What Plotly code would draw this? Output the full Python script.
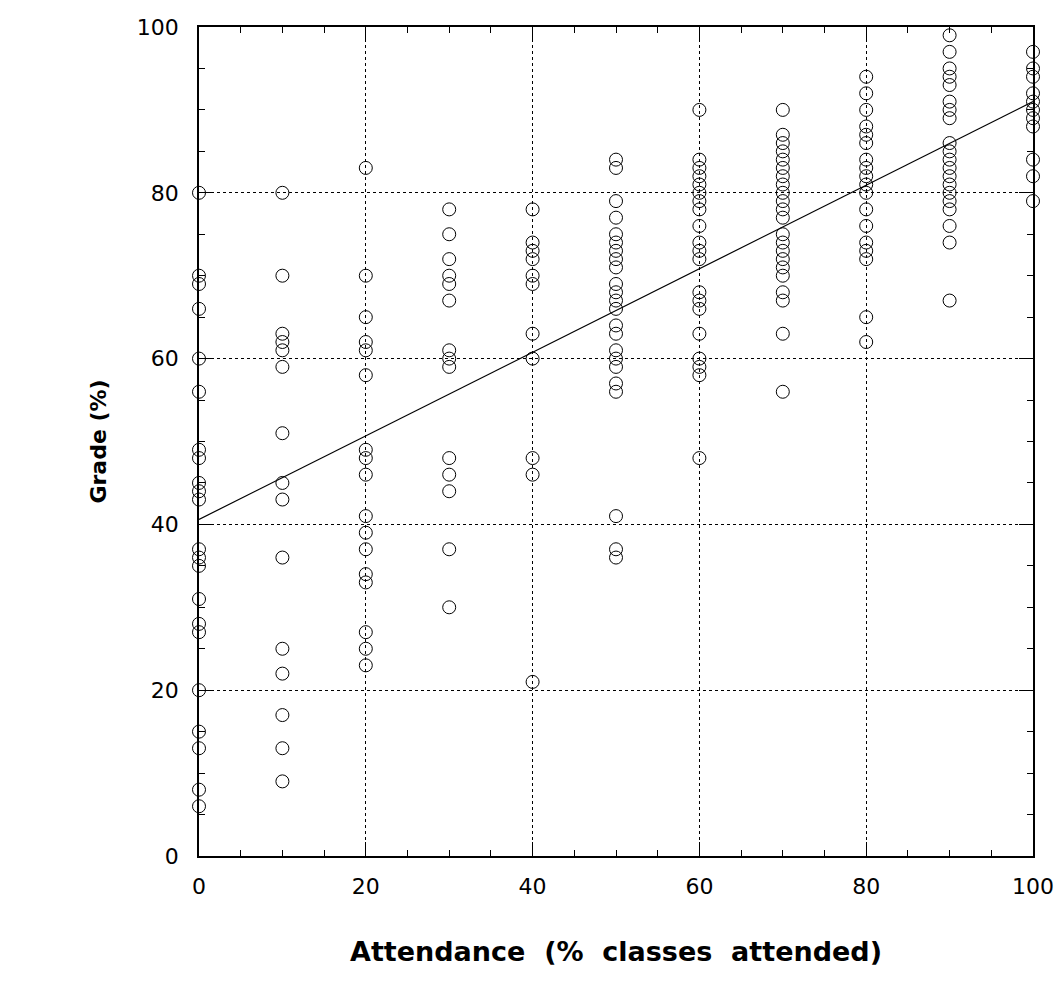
import plotly.graph_objects as go

attendance_levels = [0, 10, 20, 30, 40, 50, 60, 70, 80, 90, 100]
grades_by_level = {
    0: [80, 70, 69, 66, 60, 56, 49, 48, 45, 44, 43, 37, 36, 35, 31, 28, 27, 20, 15, 13, 8, 6],
    10: [80, 70, 63, 62, 61, 59, 51, 45, 43, 36, 25, 22, 17, 13, 9],
    20: [83, 70, 65, 62, 61, 58, 49, 48, 46, 41, 39, 37, 34, 33, 27, 25, 23],
    30: [78, 75, 72, 70, 69, 67, 61, 60, 59, 48, 46, 44, 37, 30],
    40: [78, 74, 73, 72, 70, 69, 63, 60, 48, 46, 21],
    50: [84, 83, 79, 77, 75, 74, 73, 72, 71, 69, 68, 67, 66, 64, 63, 61, 60, 59, 57, 56, 41, 37, 36],
    60: [90, 84, 83, 82, 81, 80, 79, 78, 76, 74, 73, 72, 68, 67, 66, 63, 60, 59, 58, 48],
    70: [90, 87, 86, 85, 84, 83, 82, 81, 80, 79, 78, 77, 75, 74, 73, 72, 71, 70, 68, 67, 63, 56],
    80: [94, 92, 90, 88, 87, 86, 84, 83, 82, 81, 80, 78, 76, 74, 73, 72, 65, 62],
    90: [99, 97, 95, 94, 93, 91, 90, 89, 86, 85, 84, 83, 82, 81, 80, 79, 78, 76, 74, 67],
    100: [97, 95, 94, 92, 91, 90, 89, 88, 84, 82, 79],
}
fit_x = [0, 100]
fit_y = [40.6, 91.0]
tick_vals = [0, 20, 40, 60, 80, 100]
x_title = "Attendance\u00a0\u00a0(%\u00a0\u00a0classes\u00a0\u00a0attended)"
y_title = "Grade (%)"

xs, ys = [], []
for a in attendance_levels:
    for g in grades_by_level[a]:
        xs.append(a)
        ys.append(g)

fig = go.Figure()
fig.add_trace(go.Scatter(
    x=xs, y=ys, mode="markers",
    marker=dict(symbol="circle-open", size=13, color="black", line=dict(width=1)),
    cliponaxis=False, showlegend=False,
))
fig.add_trace(go.Scatter(
    x=fit_x, y=fit_y, mode="lines",
    line=dict(color="black", width=1.2), showlegend=False,
))

tick_font = dict(family="DejaVu Sans, Liberation Sans, sans-serif", size=22, color="black")
axis_common = dict(
    showline=True, linecolor="black", linewidth=1.5, mirror="allticks",
    ticks="inside", ticklen=14, tickwidth=1, tickcolor="black",
    showgrid=True, gridcolor="black", gridwidth=1, griddash="dot",
    zeroline=False, automargin=False,
    tickvals=tick_vals,
    minor=dict(ticks="inside", ticklen=6, tickwidth=1, tickcolor="black", dtick=5, showgrid=False),
    tickfont=tick_font,
    ticklabeloverflow="allow",
)

fig.update_xaxes(
    range=[0, 100], **axis_common,
    ticklabelstandoff=10,
    title=dict(text="<b>" + x_title + "</b>", standoff=44,
               font=dict(family="DejaVu Sans, Liberation Sans, sans-serif", size=27, color="black")),
)
fig.update_yaxes(
    range=[0, 100], **axis_common,
    ticklabelstandoff=14,
    title=dict(text="<b>" + y_title + "</b>", standoff=24,
               font=dict(family="DejaVu Sans, Liberation Sans, sans-serif", size=22, color="black")),
)

fig.update_layout(
    width=1054, height=998,
    margin=dict(l=199, r=21, t=27, b=142),
    plot_bgcolor="white", paper_bgcolor="white",
)

fig.write_html(
    "out.html",
    config={"displayModeBar": False, "responsive": False},
    post_script="document.body.style.margin='0';document.body.style.overflow='hidden';"
                "document.documentElement.style.overflow='hidden';",
)
